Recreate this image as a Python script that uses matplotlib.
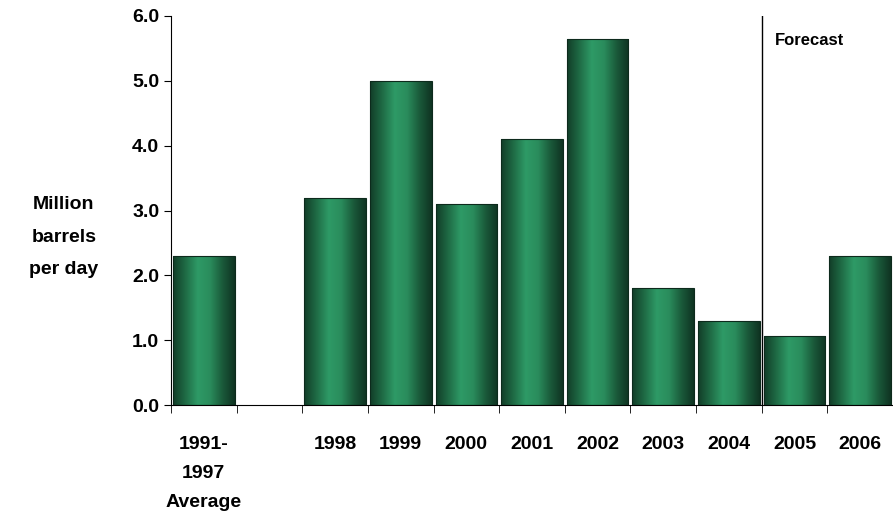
import matplotlib
matplotlib.use("Agg")
import matplotlib.pyplot as plt
import numpy as np
from matplotlib.colors import LinearSegmentedColormap

categories = ["1991-\n1997\nAverage", "", "1998", "1999", "2000", "2001", "2002", "2003", "2004", "2005", "2006"]
values = [2.3, 0.0, 3.2, 5.0, 3.1, 4.1, 5.65, 1.8, 1.3, 1.07, 2.3]
yticks = [0.0, 1.0, 2.0, 3.0, 4.0, 5.0, 6.0]

fig = plt.figure(figsize=(8.93, 5.15), dpi=100)
ax = fig.add_axes([171/893, 1-405/515, (893-171)/893, (405-16)/515])
n = len(categories)
x = np.arange(n)
cmap = LinearSegmentedColormap.from_list("g", ["#123d28", "#1f6b45", "#2e9a66", "#2a8c5c", "#1a5a3a", "#0f3322"])
grad = np.linspace(0, 1, 256).reshape(1, -1)
w = 0.94
for xi, v in zip(x, values):
    if v <= 0:
        continue
    bar = ax.bar(xi, v, width=w, color="none", edgecolor="#0d2a1c", linewidth=0.8, zorder=3)[0]
    im = ax.imshow(grad, cmap=cmap, aspect="auto", extent=[xi-w/2, xi+w/2, 0, v], zorder=2)
    im.set_clip_path(bar)
ax.set_xlim(-0.5, n-0.5)
ax.set_ylim(0, 6.0)
ax.set_yticks(yticks)
ax.set_yticklabels([f"{t:.1f}" for t in yticks], fontsize=14, fontweight="bold", family="Liberation Sans")
ax.set_xticks(x)
ax.set_xticklabels(categories, fontsize=14, fontweight="bold", family="Liberation Sans", va="top", linespacing=1.95)
ax.tick_params(axis="x", length=0, pad=22)
ax.set_xticks(np.arange(n+1)-0.5, minor=True)
ax.tick_params(axis="x", which="minor", length=6, direction="out")
ax.tick_params(axis="y", length=5, direction="out")
for s in ["top", "right"]:
    ax.spines[s].set_visible(False)
ax.axvline(8.5, color="black", lw=1)
ax.text(8.7, 5.55, "Forecast", fontsize=12, fontweight="bold", family="Liberation Sans")
fig.text(64/893, 1-237/515, "Million\nbarrels\nper day", ha="center", va="center", fontsize=14,
         fontweight="bold", family="Liberation Sans", linespacing=2.2)
fig.savefig("out.png", dpi=100)
